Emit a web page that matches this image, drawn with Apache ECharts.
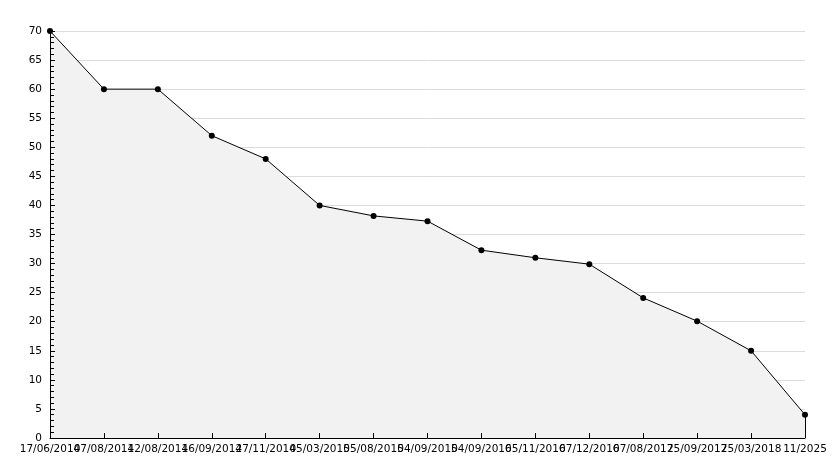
<!DOCTYPE html>
<html>
<head>
<meta charset="utf-8">
<script src="https://cdn.jsdelivr.net/npm/echarts@6/dist/echarts.min.js"></script>
<style>
  html, body { margin: 0; padding: 0; background: #fff; }
  #chart { width: 834px; height: 468px; }
</style>
</head>
<body>
<div id="chart"></div>
<script>
// dates on the x axis (labels overlap in the original, kept as is)
const dates = [
  '17/06/2014', '07/08/2014', '12/08/2014', '16/09/2014', '27/11/2014',
  '05/03/2015', '05/08/2015', '04/09/2015', '04/09/2016', '05/11/2016',
  '07/12/2016', '07/08/2017', '25/09/2017', '25/03/2018', '11/2025'
];
const values = [70, 60, 60, 52, 48, 40, 38.2, 37.3, 32.3, 31, 29.9, 24.1, 20.1, 15, 4];

const chart = echarts.init(document.getElementById('chart'));

const labelFont = { color: '#000', fontSize: 10.5, fontFamily: 'DejaVu Sans' };

chart.setOption({
  animation: false,
  grid: { left: 50, right: 29, top: 31, bottom: 30, containLabel: false },
  xAxis: {
    type: 'category',
    data: dates,
    boundaryGap: false,
    zlevel: 2,
    axisLine: { lineStyle: { color: '#000', width: 1 } },
    axisTick: { inside: true, length: 5, interval: 0, lineStyle: { color: '#000' } },
    axisLabel: { ...labelFont, interval: 0, hideOverlap: false, margin: 6 },
    splitLine: { show: false }
  },
  yAxis: [
    {
      // grid lines only, kept behind the area
      type: 'value',
      min: 0,
      max: 70,
      interval: 5,
      zlevel: 0,
      axisLine: { show: false },
      axisTick: { show: false },
      axisLabel: { show: false },
      splitLine: { show: true, lineStyle: { color: '#dcdcdc', width: 1 } }
    },
    {
      // axis line, ticks and labels drawn on top
      type: 'value',
      position: 'left',
      min: 0,
      max: 70,
      interval: 5,
      zlevel: 2,
      axisLine: { show: true, lineStyle: { color: '#000', width: 1 } },
      axisTick: { show: true, inside: true, length: 5, lineStyle: { color: '#000' } },
      minorTick: { show: true, splitNumber: 5, length: 4, lineStyle: { color: '#000' } },
      axisLabel: { ...labelFont, margin: 8 },
      splitLine: { show: false }
    }
  ],
  series: [{
    type: 'line',
    data: values,
    yAxisIndex: 0,
    zlevel: 1,
    symbol: 'circle',
    symbolSize: 6,
    itemStyle: { color: '#000' },
    lineStyle: { color: '#000', width: 1 },
    areaStyle: { color: '#f2f2f2', opacity: 1 },
    markLine: {
      silent: true,
      symbol: 'none',
      label: { show: false },
      lineStyle: { color: '#000', width: 1, type: 'solid' },
      data: [[
        { coord: [dates.length - 1, 0] },
        { coord: [dates.length - 1, values[values.length - 1]] }
      ]]
    }
  }]
});
</script>
</body>
</html>
